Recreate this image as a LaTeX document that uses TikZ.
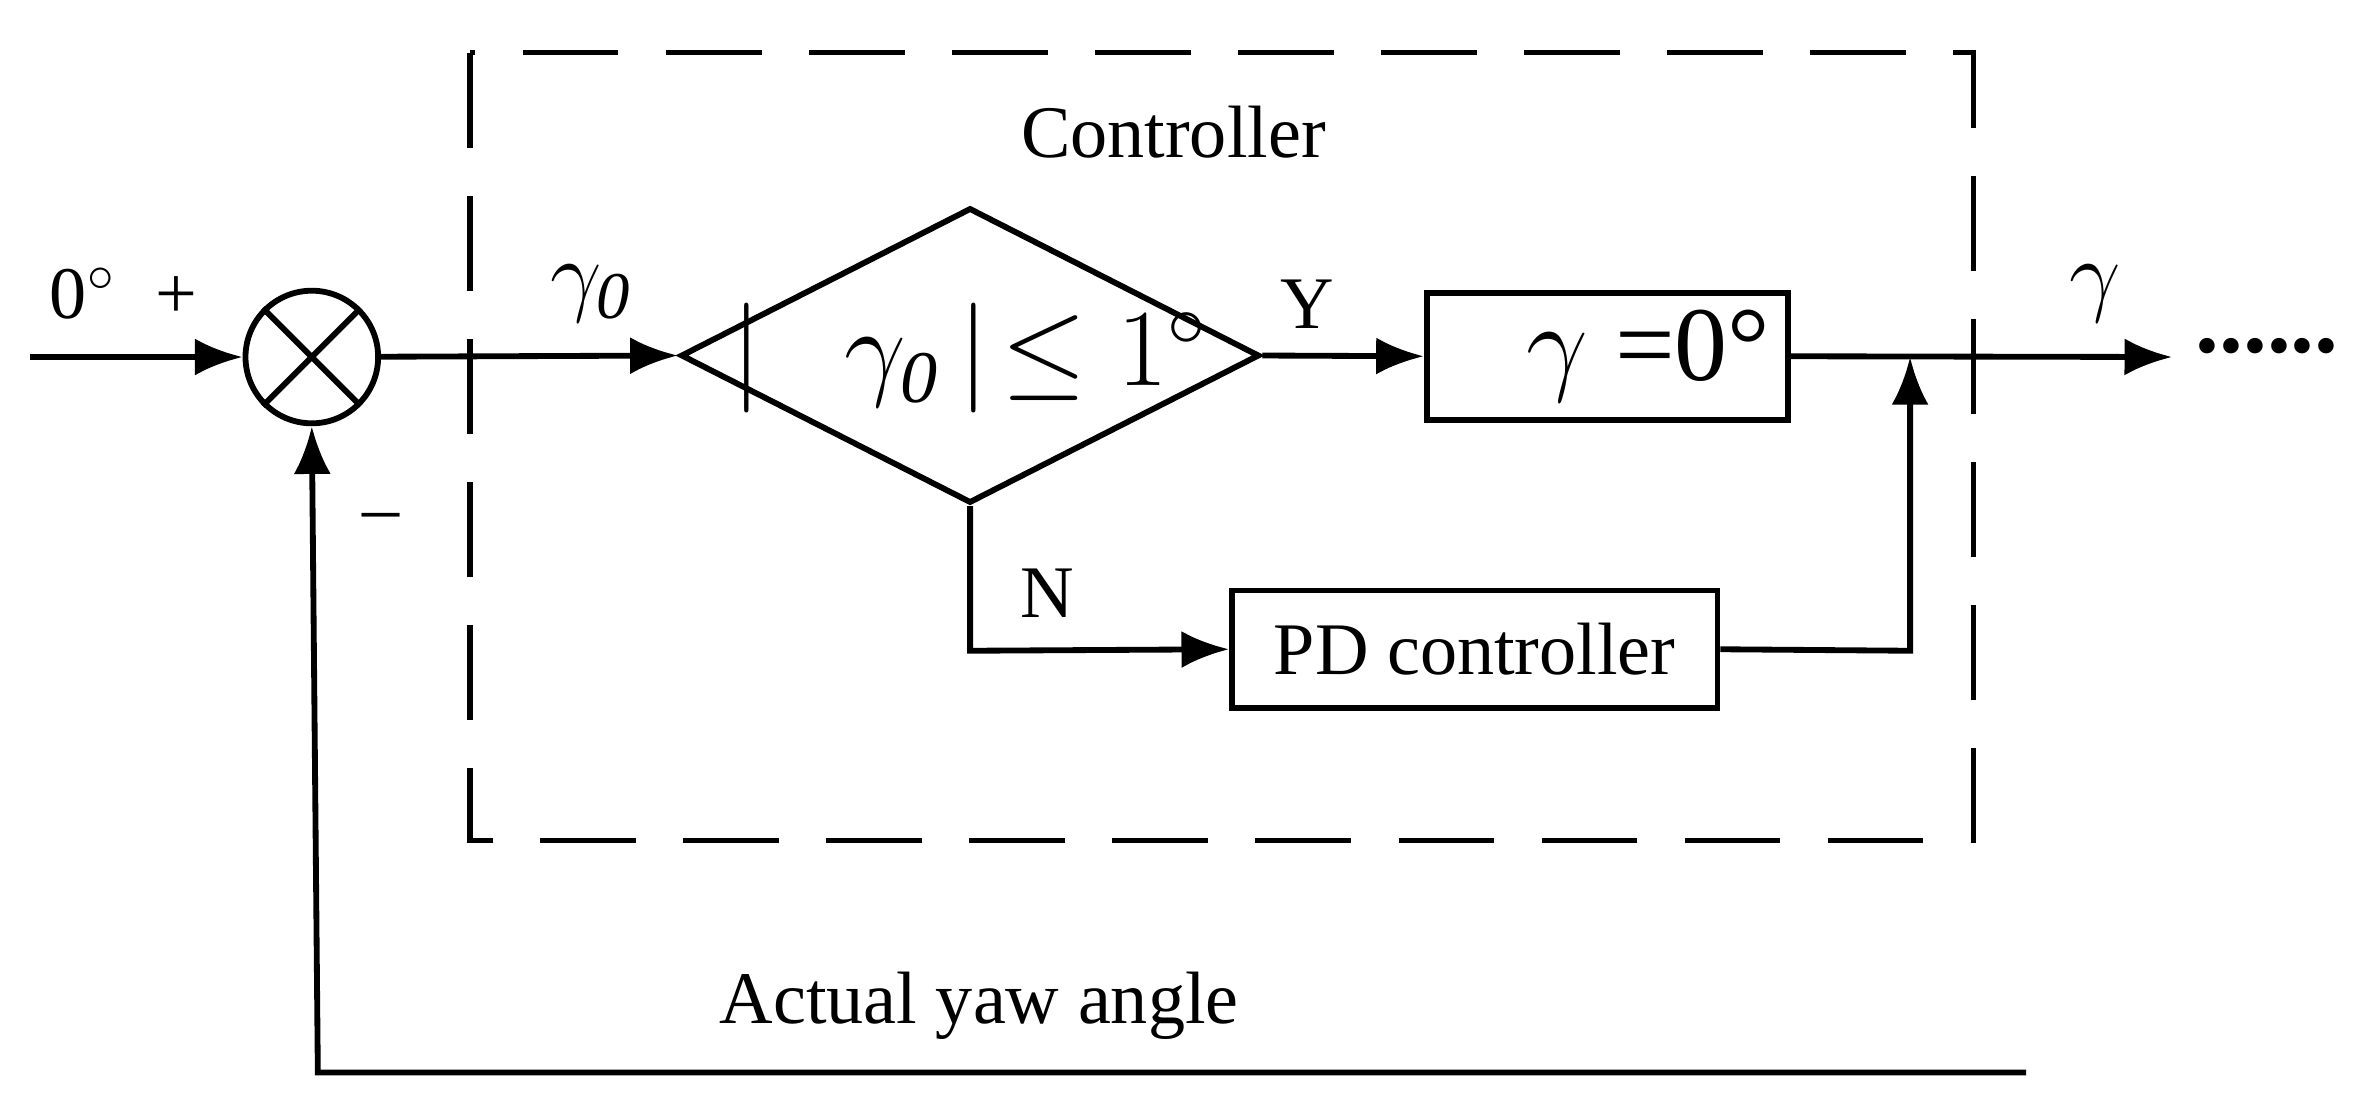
\documentclass[tikz,border=0pt]{standalone}
\usepackage{fontspec}
\setmainfont{Liberation Serif}
\usetikzlibrary{shapes.geometric,arrows.meta}
\begin{document}
\begin{tikzpicture}[x=0.01cm,y=-0.01cm,
  line width=1.1pt,
  arr/.style={-{Latex[length=9pt,width=7pt]}},
  txt/.style={font=\fontsize{14}{16}\selectfont},
  blk/.style={draw,line width=1.1pt,font=\fontsize{14}{16}\selectfont}]
\useasboundingbox (0,0) rectangle (1568,730);
\draw[dash pattern=on 18pt off 9pt,line width=1pt] (312,35) rectangle (1310,558);
\node[txt] (ctl) at (779,88) {Controller};
\node[draw,circle,minimum size=0.88cm,inner sep=0pt] (sum) at (207,237) {};
\draw (sum.45) -- (sum.225) (sum.135) -- (sum.315);
\coordinate (in) at (20,237);
\draw[arr] (in) -- (sum);
\node[txt] (zero) at (82,195) {0$^\circ$ \;+};
\node[draw,diamond,aspect=1.96,minimum width=3.84cm,minimum height=1.96cm,inner sep=0pt] (dia) at (644,236) {};
\node[font=\fontsize{20}{22}\selectfont] (dtxt) at (644,238) {$|\mathit{\Delta\gamma_0}\,|\!\leq 1^\circ$};
\draw[arr] (sum) -- (dia.west);
\node[font=\fontsize{18}{20}\selectfont] (lg0) at (368,195) {$\mathit{\Delta\gamma_0}$};
\node[blk,font=\fontsize{20}{22}\selectfont,minimum width=2.09cm,minimum height=0.79cm] (zb) at (1067,236.5) {$\mathit{\Delta\gamma}$ =0°};
\draw[arr] (dia.east) -- (zb.west);
\node[txt] (Y) at (868,202) {Y};
\node[blk,minimum width=3.22cm,minimum height=0.78cm] (pd) at (979,431) {PD controller};
\coordinate (nb) at (644,432);
\draw[arr] (dia.south) -- (nb) -- (pd.west);
\node[txt] (N) at (695,394) {N};
\coordinate (j) at (1268,237);
\coordinate (jb) at (1268,432);
\draw[arr] (pd.east) -- (jb) -- (j);
\coordinate (out) at (1442,237);
\draw[arr] (zb.east) -- (out);
\node[font=\fontsize{18}{20}\selectfont] (lg) at (1366,195) {$\mathit{\Delta\gamma}$};
\node[font=\fontsize{18}{20}\selectfont] (dots) at (1505,230) {\textbf{......}};
\coordinate (fb1) at (1345,712);
\coordinate (fb2) at (211,712);
\draw[arr] (fb1) -- (fb2) -- (sum.south);
\node[txt] (minus) at (253,347) {--};
\node[txt] (act) at (650,668) {Actual yaw angle};
\end{tikzpicture}
\end{document}
